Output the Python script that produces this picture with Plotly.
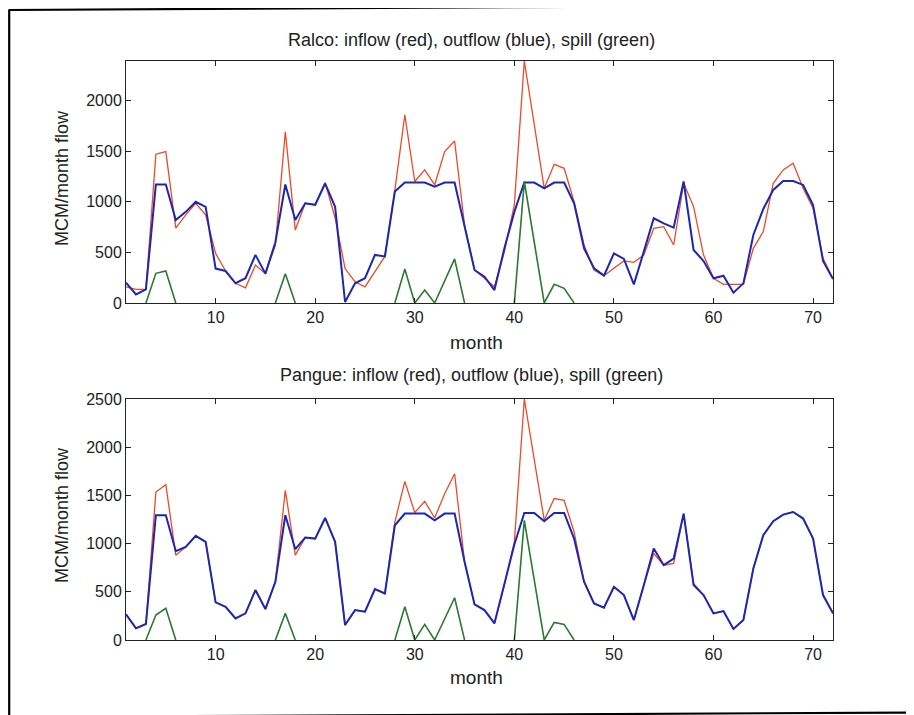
import plotly.graph_objects as go

months = list(range(1, 73))

ralco_inflow = [160, 135, 135, 1470, 1495, 740, 870, 985, 870, 490, 316, 195, 150, 375, 290, 570, 1690, 720,
                985, 970, 1190, 840, 340, 210, 160, 310, 460, 1115, 1857, 1200, 1315, 1166, 1495, 1600, 770, 326,
                245, 160, 507, 970, 2390, 1760, 1133, 1370, 1330, 1000, 573, 326, 270, 343, 415, 402, 474, 738,
                754, 573, 1182, 952, 474, 244, 184, 184, 184, 540, 705, 1182, 1314, 1380, 1133, 935, 441, 237]
ralco_outflow = [200, 85, 135, 1170, 1170, 820, 900, 1000, 950, 340, 316, 195, 245, 475, 290, 600, 1170, 820,
                 985, 970, 1180, 950, 10, 195, 245, 475, 460, 1100, 1190, 1190, 1190, 1150, 1190, 1190, 770, 326,
                 260, 128, 540, 900, 1190, 1190, 1133, 1190, 1190, 985, 540, 343, 270, 490, 435, 184, 507, 837,
                 787, 744, 1200, 524, 415, 244, 270, 102, 194, 672, 929, 1117, 1205, 1205, 1166, 968, 415, 237]
ralco_spill = [0, 0, 0, 293, 316, 0, 0, 0, 0, 0, 0, 0, 0, 0, 0, 0, 290, 0,
               0, 0, 0, 0, 0, 0, 0, 0, 0, 0, 336, 0, 128, 0, 220, 435, 0, 0,
               0, 0, 0, 0, 1200, 600, 0, 184, 145, 0, 0, 0, 0, 0, 0, 0, 0, 0,
               0, 0, 0, 0, 0, 0, 0, 0, 0, 0, 0, 0, 0, 0, 0, 0, 0, 0]

pangue_inflow = [266, 121, 166, 1535, 1611, 880, 966, 1080, 1018, 390, 345, 224, 276, 518, 321, 604, 1553, 880,
                 1063, 1052, 1266, 1018, 155, 310, 293, 528, 483, 1225, 1646, 1322, 1439, 1266, 1518, 1725, 811, 369,
                 310, 173, 569, 1018, 2500, 1870, 1242, 1467, 1449, 1121, 604, 380, 335, 552, 466, 207, 569, 897,
                 776, 794, 1311, 587, 466, 276, 300, 114, 207, 742, 1087, 1232, 1301, 1328, 1260, 1052, 466, 276]
pangue_outflow = [266, 121, 166, 1294, 1294, 921, 966, 1080, 1018, 390, 345, 224, 276, 518, 321, 604, 1294, 942,
                  1063, 1052, 1266, 1018, 155, 310, 293, 528, 483, 1190, 1311, 1311, 1311, 1242, 1311, 1311, 811, 369,
                  310, 173, 569, 990, 1318, 1318, 1232, 1318, 1318, 1052, 604, 380, 335, 552, 466, 207, 569, 949,
                  776, 845, 1311, 569, 466, 276, 300, 114, 207, 742, 1087, 1232, 1301, 1328, 1260, 1052, 466, 276]
pangue_spill = [0, 0, 0, 259, 328, 0, 0, 0, 0, 0, 0, 0, 0, 0, 0, 0, 276, 0,
                0, 0, 0, 0, 0, 0, 0, 0, 0, 0, 345, 0, 162, 0, 224, 438, 0, 0,
                0, 0, 0, 0, 1242, 621, 0, 183, 162, 0, 0, 0, 0, 0, 0, 0, 0, 0,
                0, 0, 0, 0, 0, 0, 0, 0, 0, 0, 0, 0, 0, 0, 0, 0, 0, 0]

x_ticks = [10, 20, 30, 40, 50, 60, 70]
ralco_yticks = [0, 500, 1000, 1500, 2000]
pangue_yticks = [0, 500, 1000, 1500, 2000, 2500]

titles = ["Ralco: inflow (red), outflow (blue), spill (green)",
          "Pangue: inflow (red), outflow (blue), spill (green)"]

# page offset (browser body margin)
OFF = 8
W, H = 914 - OFF, 715 - OFF
# plot area in screen pixels
SL, SR, ST, SB = 126, 833, 61, 640
L, R, T, B = SL - OFF, SR - OFF, ST - OFF, SB - OFF
PW, PH = R - L, B - T


def px(x):
    return (x - OFF - L) / PW


def py(y):
    return (B - (y - OFF)) / PH


def visible_spill(vals):
    out = []
    n = len(vals)
    for i, v in enumerate(vals):
        near = v > 0 or (i > 0 and vals[i - 1] > 0) or (i < n - 1 and vals[i + 1] > 0)
        out.append(v if near else None)
    return out


RED = "#ee4a26"
BLUE = "#1c28b4"
GREEN = "#2a7a30"
FONT = "Liberation Sans, Arial, sans-serif"

fig = go.Figure()
sets = [(ralco_inflow, ralco_outflow, ralco_spill, "x", "y"),
        (pangue_inflow, pangue_outflow, pangue_spill, "x2", "y2")]
for inflow, outflow, spill, xa, ya in sets:
    fig.add_trace(go.Scatter(x=months, y=inflow, mode="lines", line=dict(color=RED, width=1.3),
                             xaxis=xa, yaxis=ya, showlegend=False))
    fig.add_trace(go.Scatter(x=months, y=outflow, mode="lines", line=dict(color=BLUE, width=2),
                             xaxis=xa, yaxis=ya, showlegend=False))
    fig.add_trace(go.Scatter(x=months, y=visible_spill(spill), mode="lines",
                             line=dict(color=GREEN, width=1.6), connectgaps=False,
                             xaxis=xa, yaxis=ya, showlegend=False))

axis_common = dict(showline=True, linecolor="#222", linewidth=1, mirror="ticks",
                   ticks="inside", ticklen=5, tickcolor="#222", showgrid=False, zeroline=False,
                   tickfont=dict(family=FONT, size=16, color="#222"))

top_dom = [py(303), 1]
bot_dom = [0, py(399)]

fig.update_layout(
    width=W, height=H,
    margin=dict(l=L, r=W - R, t=T, b=H - B),
    paper_bgcolor="white", plot_bgcolor="white",
    xaxis=dict(domain=[0, 1], range=[1, 72], tickvals=x_ticks, anchor="y", **axis_common),
    yaxis=dict(domain=top_dom, range=[0, max(ralco_inflow)], tickvals=ralco_yticks, anchor="x",
               **axis_common),
    xaxis2=dict(domain=[0, 1], range=[1, 72], tickvals=x_ticks, anchor="y2", **axis_common),
    yaxis2=dict(domain=bot_dom, range=[0, max(pangue_inflow)], tickvals=pangue_yticks, anchor="x2",
                **axis_common),
)

ann = []
for title, ty, my, yl in [(titles[0], 40, 342, 178), (titles[1], 375, 677, 515)]:
    ann.append(dict(text=title, x=px(471), y=py(ty), xref="paper", yref="paper", showarrow=False,
                    xanchor="center", yanchor="middle", font=dict(family=FONT, size=18, color="#222")))
    ann.append(dict(text="month", x=px(476), y=py(my), xref="paper", yref="paper", showarrow=False,
                    xanchor="center", yanchor="middle", font=dict(family=FONT, size=19, color="#222")))
    ann.append(dict(text="MCM/month flow", x=px(62), y=py(yl), xref="paper", yref="paper",
                    showarrow=False, textangle=-90, xanchor="center", yanchor="middle",
                    font=dict(family=FONT, size=18, color="#222")))
fig.update_layout(annotations=ann)

frame = dict(type="line", xref="paper", yref="paper", line=dict(color="black", width=2.2))
fig.update_layout(shapes=[
    dict(frame, x0=px(9.2), y0=py(10), x1=px(9.2), y1=py(718)),
    dict(frame, x0=px(8.5), y0=py(10), x1=px(916), y1=py(5)),
    dict(frame, x0=px(8.5), y0=py(717), x1=px(916), y1=py(712.5)),
])

fig.write_html("out.html")
